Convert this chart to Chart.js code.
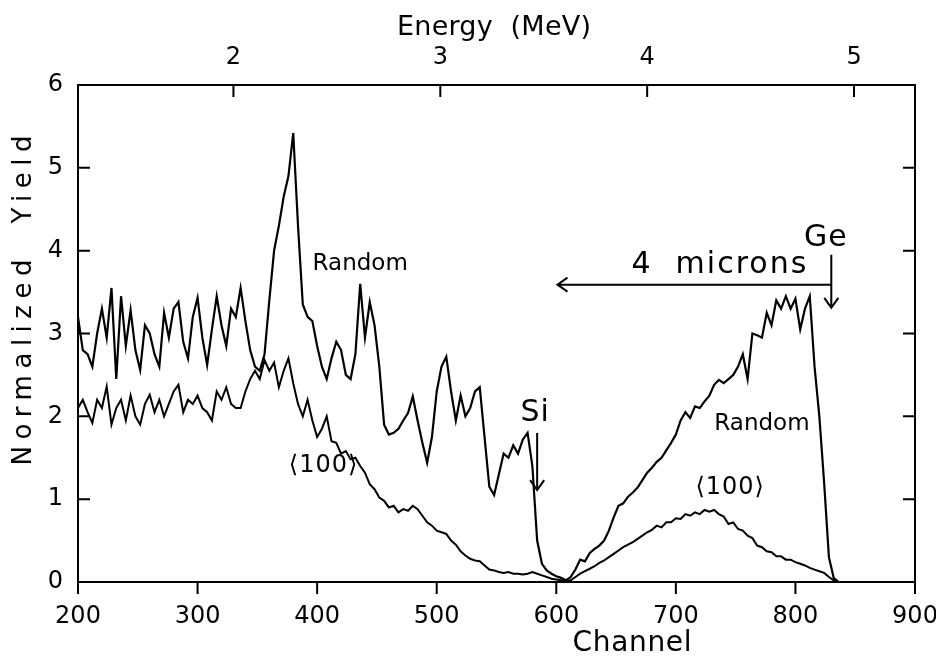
<!DOCTYPE html>
<html>
<head>
<meta charset="utf-8">
<script src="https://cdn.jsdelivr.net/npm/chart.js@4.4.1/dist/chart.umd.min.js"></script>
<style>
  html, body { margin: 0; padding: 0; background: #fff; }
  #wrap { width: 936px; height: 660px; }
</style>
</head>
<body>
<div id="wrap"><canvas id="rbs"></canvas></div>
<script>
// channel grid, every 4 channels
const channels = [];
for (let c = 200; c <= 836; c += 4) channels.push(c);

// Random spectrum
const randomYield = [
  3.2, 2.8, 2.75, 2.6, 3.0, 3.3, 2.95, 3.55, 2.45, 3.45,
  2.85, 3.28, 2.8, 2.56, 3.1, 3.0, 2.75, 2.6, 3.25, 2.95,
  3.3, 3.38, 2.9, 2.7, 3.2, 3.43, 2.95, 2.62, 3.05, 3.45,
  3.1, 2.85, 3.3, 3.2, 3.55, 3.15, 2.8, 2.6, 2.55, 2.75,
  3.4, 4.0, 4.3, 4.65, 4.9, 5.42, 4.3, 3.35, 3.2, 3.15,
  2.85, 2.6, 2.45, 2.7, 2.9, 2.8, 2.5, 2.45, 2.75, 3.6,
  2.95, 3.38, 3.1, 2.6, 1.9, 1.78, 1.8, 1.85, 1.95, 2.04,
  2.24, 1.95, 1.68, 1.44, 1.75, 2.3, 2.6, 2.72, 2.3, 1.95,
  2.25, 2.0, 2.1, 2.3, 2.35, 1.75, 1.15, 1.05, 1.3, 1.55,
  1.5, 1.65, 1.55, 1.72, 1.8, 1.4, 0.5, 0.22, 0.14, 0.1,
  0.07, 0.05, 0.02, 0.06, 0.15, 0.27, 0.25, 0.35, 0.4, 0.44,
  0.5, 0.62, 0.78, 0.92, 0.95, 1.03, 1.08, 1.14, 1.23, 1.32,
  1.38, 1.45, 1.5, 1.59, 1.68, 1.78, 1.95, 2.05, 1.98, 2.12,
  2.1, 2.18, 2.25, 2.38, 2.44, 2.4, 2.45, 2.5, 2.6, 2.75,
  2.45, 3.0, 2.98, 2.95, 3.25, 3.1, 3.4, 3.3, 3.45, 3.3,
  3.42, 3.05, 3.3, 3.45, 2.6, 2.0, 1.2, 0.3, 0.05, 0
];

// <100> aligned spectrum
const alignedYield = [
  2.1, 2.2, 2.05, 1.92, 2.2, 2.1, 2.36, 1.9, 2.1, 2.2,
  1.95, 2.25, 2.0, 1.9, 2.15, 2.26, 2.05, 2.2, 2.0, 2.15,
  2.3, 2.38, 2.05, 2.2, 2.15, 2.25, 2.1, 2.05, 1.95, 2.3,
  2.2, 2.35, 2.15, 2.1, 2.1, 2.3, 2.45, 2.55, 2.45, 2.68,
  2.55, 2.65, 2.35, 2.55, 2.7, 2.4, 2.15, 2.0, 2.2, 1.95,
  1.75, 1.85, 2.0, 1.7, 1.68, 1.55, 1.58, 1.48, 1.5, 1.4,
  1.32, 1.18, 1.12, 1.02, 0.98, 0.9, 0.92, 0.84, 0.88, 0.86,
  0.92, 0.88, 0.8, 0.72, 0.68, 0.62, 0.6, 0.58, 0.5, 0.45,
  0.37, 0.32, 0.28, 0.26, 0.25, 0.2, 0.15, 0.14, 0.12, 0.11,
  0.12, 0.1, 0.1, 0.09, 0.1, 0.12, 0.1, 0.08, 0.06, 0.04,
  0.03, 0.02, 0.01, 0.02, 0.06, 0.1, 0.13, 0.16, 0.19, 0.23,
  0.26, 0.3, 0.34, 0.38, 0.42, 0.45, 0.48, 0.52, 0.56, 0.6,
  0.63, 0.68, 0.66, 0.72, 0.72, 0.77, 0.76, 0.82, 0.8, 0.84,
  0.82, 0.87, 0.85, 0.87, 0.82, 0.79, 0.7, 0.72, 0.64, 0.62,
  0.56, 0.53, 0.44, 0.42, 0.37, 0.36, 0.31, 0.31, 0.27, 0.27,
  0.24, 0.22, 0.2, 0.17, 0.15, 0.13, 0.11, 0.06, 0.02, 0
];

const channelTicks = [200, 300, 400, 500, 600, 700, 800, 900];
const energyTicks = [2, 3, 4, 5];
const yieldTicks = [0, 1, 2, 3, 4, 5, 6];

// energy (MeV) = 2 + (channel - 330) / 173
const toEnergy = ch => 2 + (ch - 330) / 173;

const FONT = 'DejaVu Sans';

// text stretched with letter spacing to a given width (the original lettering is wide)
function spacedText(ctx, txt, cx, cy, width, font, rot) {
    ctx.save();
    ctx.font = font;
    ctx.letterSpacing = '0px';
    const w = ctx.measureText(txt).width;
    const sp = Math.max(0, (width - w) / (txt.length - 1));
    ctx.letterSpacing = sp + 'px';
    ctx.translate(cx + (rot ? 0 : sp / 2), cy + (rot ? sp / 2 : 0));
    if (rot) ctx.rotate(-Math.PI / 2);
    ctx.textAlign = 'center';
    ctx.textBaseline = 'middle';
    ctx.fillText(txt, 0, 0);
    ctx.restore();
}

/*
 * frame with inward ticks + titles, labels and arrows
 */
const frame = {
    id: 'frame',
    afterDatasetsDraw(chart) {
        const {ctx, chartArea: {left, right, top, bottom}, scales: {x, x2, y}} = chart;
        const T = 12;
        ctx.save();
        ctx.strokeStyle = '#000';
        ctx.lineWidth = 2;
        ctx.strokeRect(left, top, right - left, bottom - top);

        ctx.beginPath();
        y.ticks.forEach(t => {
            const py = y.getPixelForValue(t.value);
            ctx.moveTo(left, py); ctx.lineTo(left + T, py);
            ctx.moveTo(right, py); ctx.lineTo(right - T, py);
        });
        x.ticks.forEach(t => {
            const px = x.getPixelForValue(t.value);
            ctx.moveTo(px, bottom); ctx.lineTo(px, bottom + T);
        });
        x2.ticks.forEach(t => {
            const px = x2.getPixelForValue(t.value);
            ctx.moveTo(px, top); ctx.lineTo(px, top + T);
        });
        ctx.stroke();

        ctx.fillStyle = '#000';
        // axis titles
        spacedText(ctx, 'Energy  (MeV)', 494, 28, 194, '27px ' + FONT, false);
        spacedText(ctx, 'Channel', 632, 644, 119, '28px ' + FONT, false);
        spacedText(ctx, 'Normalized  Yield', 24, 294, 330, '26px ' + FONT, true);

        // labels in data coordinates
        ctx.textAlign = 'center';
        ctx.textBaseline = 'middle';
        const label = (txt, ch, v, font, sp) => {
            ctx.font = font;
            ctx.letterSpacing = (sp || 0) + 'px';
            ctx.fillText(txt, x.getPixelForValue(ch) + (sp || 0) / 2, y.getPixelForValue(v));
        };
        label('Random', 436, 3.84, '23px ' + FONT, 0);
        label('Random', 772, 1.91, '23px ' + FONT, 0);
        label('\u27E8100\u27E9', 405, 1.4, '24px ' + FONT, 1);
        label('\u27E8100\u27E9', 745, 1.14, '24px ' + FONT, 1);
        label('Si', 582, 2.04, '30px ' + FONT, 1);
        label('Ge', 825, 4.15, '30px ' + FONT, 1);
        label('4  microns', 736, 3.83, '30px ' + FONT, 2);
        ctx.letterSpacing = '0px';

        // arrows
        ctx.lineWidth = 2;
        const H = 10;
        ctx.beginPath();
        // 4 microns, pointing left
        let xa = x.getPixelForValue(601), xb = x.getPixelForValue(830), ya = y.getPixelForValue(3.59);
        ctx.moveTo(xb, ya); ctx.lineTo(xa, ya);
        ctx.moveTo(xa + H, ya - H * 0.7); ctx.lineTo(xa, ya); ctx.lineTo(xa + H, ya + H * 0.7);
        // Ge, pointing down
        let yt = y.getPixelForValue(3.95), yb = y.getPixelForValue(3.31);
        ctx.moveTo(xb, yt); ctx.lineTo(xb, yb);
        ctx.moveTo(xb - H * 0.7, yb - H); ctx.lineTo(xb, yb); ctx.lineTo(xb + H * 0.7, yb - H);
        // Si, pointing down
        let xs = x.getPixelForValue(584);
        yt = y.getPixelForValue(1.8); yb = y.getPixelForValue(1.11);
        ctx.moveTo(xs, yt); ctx.lineTo(xs, yb);
        ctx.moveTo(xs - H * 0.7, yb - H); ctx.lineTo(xs, yb); ctx.lineTo(xs + H * 0.7, yb - H);
        ctx.stroke();
        ctx.restore();
    }
};

const asPoints = arr => channels.map((c, i) => ({x: c, y: arr[i]}));

const axisFont = {family: FONT, size: 24};
const fixX = h => axis => { axis.height = h; axis.paddingLeft = 0; axis.paddingRight = 21; };

new Chart(document.getElementById('rbs').getContext('2d'), {
    type: 'line',
    plugins: [frame],
    data: {
        datasets: [
            {
                label: 'Random',
                data: asPoints(randomYield),
                borderColor: '#000',
                borderWidth: 2.2,
                pointRadius: 0,
                tension: 0
            },
            {
                label: '<100>',
                data: asPoints(alignedYield),
                borderColor: '#000',
                borderWidth: 2,
                pointRadius: 0,
                tension: 0
            }
        ]
    },
    options: {
        responsive: true,
        maintainAspectRatio: false,
        animation: false,
        plugins: {legend: {display: false}, tooltip: {enabled: false}},
        scales: {
            x: {
                type: 'linear',
                position: 'bottom',
                min: 200,
                max: 900,
                afterBuildTicks: axis => { axis.ticks = channelTicks.map(v => ({value: v})); },
                afterFit: fixX(78),
                grid: {display: false},
                border: {display: false},
                ticks: {color: '#000', font: axisFont, padding: 12, maxRotation: 0}
            },
            x2: {
                type: 'linear',
                position: 'top',
                min: toEnergy(200),
                max: toEnergy(900),
                afterBuildTicks: axis => { axis.ticks = energyTicks.map(v => ({value: v})); },
                afterFit: fixX(85),
                grid: {display: false},
                border: {display: false},
                ticks: {color: '#000', font: axisFont, padding: 5, maxRotation: 0}
            },
            y: {
                min: 0,
                max: 6,
                afterBuildTicks: axis => { axis.ticks = yieldTicks.map(v => ({value: v})); },
                afterFit: axis => { axis.width = 78; },
                grid: {display: false},
                border: {display: false},
                ticks: {color: '#000', font: axisFont, padding: 7}
            }
        }
    }
});
</script>
</body>
</html>
